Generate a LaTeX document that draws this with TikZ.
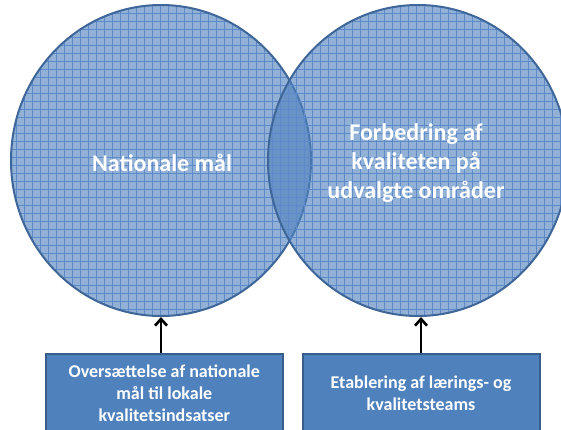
\documentclass[tikz,border=0pt]{standalone}
\usepackage{fontspec}
\setmainfont{Carlito}
\usepackage{xcolor}
\usetikzlibrary{shapes.geometric, arrows.meta, patterns.meta}

\definecolor{vennblue}{HTML}{4F81BD}
\definecolor{venngrid}{HTML}{5E8ACA}
\definecolor{vennedge}{HTML}{3E6699}
\definecolor{boxedge}{HTML}{385D8A}

\tikzset{
  venn/.style={ellipse, minimum width=225pt, minimum height=233.25pt, inner sep=0pt,
    draw=vennedge, line width=1.5pt,
    preaction={fill=vennblue, fill opacity=0.62},
    preaction={pattern={Lines[angle=0, distance=6pt, line width=0.7pt]}, pattern color=venngrid},
    preaction={pattern={Lines[angle=90, distance=6pt, line width=0.7pt]}, pattern color=venngrid}},
  venntext/.style={text=white, align=center, font={\fontsize{18}{21.75}\selectfont\bfseries}},
  goalbox/.style={rectangle, fill=vennblue, draw=boxedge, line width=1.5pt,
    minimum width=177.75pt, minimum height=58.5pt, inner sep=0pt,
    text=white, align=center, font={\fontsize{13.5}{16.5}\selectfont\bfseries}},
  uparrow/.style={-{Straight Barb[length=5pt, width=9pt]}, line width=2pt, black}
}

\begin{document}
\begin{tikzpicture}[x=0.75pt, y=-0.75pt]

    % 1. Frame of the picture
    \useasboundingbox (0,0) rectangle (561,429);

    % 2. The two overlapping circles
    \node[venn] (lcirc) at (161,160.5) {};
    \node[venn] (rcirc) at (418,160.5) {};

    % 3. Their texts
    \node[venntext] (ltext) at (162,163) {Nationale mål};
    \node[venntext] (rtext) at (416,163) {Forbedring af\\kvaliteten på\\udvalgte områder};

    % 4. The boxes underneath
    \node[goalbox] (lbox) at (164.3,393) {Oversættelse af nationale\\mål til lokale\\kvalitetsindsatser};
    \node[goalbox] (rbox) at (421,393) {Etablering af lærings- og\\kvalitetsteams};

    % 5. Arrows from the boxes up to the circles
    \draw[uparrow] (lcirc.south |- lbox.north) -- (lcirc.south);
    \draw[uparrow] (rbox.north) -- (rbox.north |- rcirc.south);

\end{tikzpicture}
\end{document}
